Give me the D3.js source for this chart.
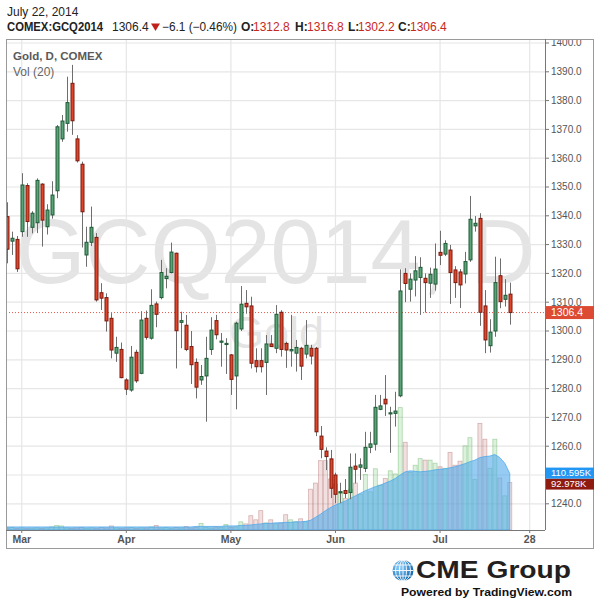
<!DOCTYPE html>
<html><head><meta charset="utf-8">
<script src="https://cdn.jsdelivr.net/npm/d3@7"></script>
<style>
body{margin:0;background:#fff;}
svg{display:block;font-family:"Liberation Sans",Arial,sans-serif;}
</style>
</head><body>
<svg id="c" width="600" height="602"></svg>
<script>
// ---------- DATA ----------
const dates = [
"2014-02-26","2014-02-27","2014-02-28",
"2014-03-03","2014-03-04","2014-03-05","2014-03-06","2014-03-07","2014-03-10","2014-03-11","2014-03-12","2014-03-13","2014-03-14",
"2014-03-17","2014-03-18","2014-03-19","2014-03-20","2014-03-21","2014-03-24","2014-03-25","2014-03-26","2014-03-27","2014-03-28","2014-03-31",
"2014-04-01","2014-04-02","2014-04-03","2014-04-04","2014-04-07","2014-04-08","2014-04-09","2014-04-10","2014-04-11","2014-04-14",
"2014-04-15","2014-04-16","2014-04-17","2014-04-21","2014-04-22","2014-04-23","2014-04-24","2014-04-25","2014-04-28","2014-04-29","2014-04-30",
"2014-05-01","2014-05-02","2014-05-05","2014-05-06","2014-05-07","2014-05-08","2014-05-09","2014-05-12","2014-05-13","2014-05-14",
"2014-05-15","2014-05-16","2014-05-19","2014-05-20","2014-05-21","2014-05-22","2014-05-23","2014-05-27","2014-05-28","2014-05-29","2014-05-30",
"2014-06-02","2014-06-03","2014-06-04","2014-06-05","2014-06-06","2014-06-09","2014-06-10","2014-06-11","2014-06-12","2014-06-13",
"2014-06-16","2014-06-17","2014-06-18","2014-06-19","2014-06-20","2014-06-23","2014-06-24","2014-06-25","2014-06-26","2014-06-27","2014-06-30",
"2014-07-01","2014-07-02","2014-07-03","2014-07-07","2014-07-08","2014-07-09","2014-07-10","2014-07-11","2014-07-14","2014-07-15",
"2014-07-16","2014-07-17","2014-07-18","2014-07-21","2014-07-22"];
const futureDates = ["2014-07-23","2014-07-24","2014-07-25","2014-07-28"];

const open = [
1339.7,1331.2,1331.8,1334.5,1350.5,1336.0,1337.6,1351.0,1336.2,1340.3,
1348.7,1366.7,1372.1,1386.0,1366.7,1357.9,1326.4,1330.8,1332.5,1313.3,
1311.6,1304.4,1292.3,1293.6,1283.0,1279.5,1292.6,1285.3,1304.4,1297.5,
1309.4,1311.6,1318.2,1320.3,1327.0,1303.0,1302.0,1294.6,1289.1,1283.0,
1284.4,1293.6,1303.6,1296.1,1295.3,1291.7,1284.4,1300.7,1309.6,1308.7,
1289.7,1289.7,1289.1,1295.5,1294.0,1306.5,1295.7,1293.1,1292.3,1294.0,
1292.0,1294.0,1294.0,1263.5,1258.3,1255.6,1250.0,1243.8,1244.6,1243.9,
1253.1,1252.7,1252.3,1259.6,1260.7,1272.8,1276.3,1271.2,1271.4,1277.5,
1320.0,1314.5,1317.7,1318.6,1318.3,1316.6,1316.3,1327.3,1326.7,1328.1,
1321.2,1320.5,1319.8,1324.7,1336.5,1339.1,1308.7,1294.9,1300.0,1319.2,
1311.0,1312.8];
const high = [
1344.7,1334.5,1333.0,1354.8,1351.3,1341.6,1353.0,1351.3,1344.0,1352.0,
1371.5,1375.0,1388.3,1392.4,1368.0,1358.8,1336.2,1343.2,1334.0,1316.6,
1313.1,1306.2,1298.0,1296.0,1283.6,1294.8,1293.5,1306.9,1307.1,1314.5,
1310.2,1324.7,1321.8,1330.7,1327.2,1306.7,1305.6,1300.0,1290.5,1288.2,
1298.0,1304.8,1305.6,1299.3,1297.5,1292.0,1303.2,1315.6,1314.2,1311.9,
1294.0,1294.0,1298.6,1298.6,1309.0,1307.2,1296.3,1305.6,1296.9,1294.5,
1303.8,1295.2,1294.5,1267.0,1259.6,1258.7,1250.8,1247.3,1248.6,1257.5,
1257.5,1255.8,1265.0,1265.0,1277.8,1277.8,1284.7,1273.7,1278.9,1321.4,
1321.8,1320.0,1326.0,1325.6,1320.0,1322.0,1330.4,1334.8,1331.5,1329.9,
1322.5,1321.5,1327.5,1346.9,1339.9,1340.9,1314.2,1304.1,1325.8,1325.2,
1318.0,1316.8];
const low = [
1323.5,1326.4,1320.5,1332.7,1332.7,1333.9,1334.0,1329.3,1333.5,1339.0,
1346.1,1365.7,1369.2,1368.1,1358.5,1329.0,1322.3,1329.5,1310.2,1307.3,
1299.8,1290.5,1289.3,1283.6,1277.8,1278.9,1282.0,1285.0,1297.0,1297.0,
1301.3,1311.0,1314.8,1320.0,1287.0,1294.0,1293.0,1281.6,1276.6,1281.3,
1268.5,1291.7,1297.1,1287.6,1285.1,1277.8,1272.8,1300.0,1306.0,1287.0,
1285.6,1285.6,1277.8,1294.5,1292.3,1291.1,1287.2,1287.6,1285.9,1283.0,
1290.5,1288.4,1263.5,1255.8,1251.7,1242.0,1240.2,1240.2,1242.0,1241.6,
1247.1,1248.3,1251.0,1257.6,1258.5,1272.5,1270.5,1257.7,1266.8,1277.0,
1310.0,1310.2,1312.0,1305.6,1306.4,1311.5,1314.0,1322.9,1326.0,1309.4,
1311.5,1308.0,1316.5,1324.0,1334.5,1301.8,1292.3,1292.5,1298.0,1307.9,
1308.5,1302.2];
const close = [
1328.4,1332.2,1321.6,1350.7,1338.0,1340.9,1352.3,1338.5,1342.0,1347.2,
1370.9,1372.9,1379.3,1373.0,1359.1,1341.4,1330.8,1336.0,1310.8,1311.4,
1303.5,1293.4,1294.3,1283.8,1279.8,1290.9,1282.7,1303.8,1297.8,1308.9,
1305.8,1320.3,1319.0,1327.4,1300.1,1303.6,1293.6,1288.3,1280.5,1284.2,
1290.5,1300.3,1298.7,1296.5,1295.7,1283.2,1302.7,1309.3,1308.4,1288.8,
1287.6,1287.6,1295.5,1294.6,1305.8,1293.6,1293.4,1293.6,1294.3,1287.8,
1295.0,1291.3,1265.0,1258.9,1256.4,1245.4,1243.3,1244.2,1243.6,1252.7,
1252.0,1253.5,1259.6,1260.8,1273.5,1274.0,1274.7,1271.6,1272.2,1313.9,
1316.5,1318.0,1320.9,1322.1,1316.8,1319.7,1321.5,1326.3,1330.4,1320.3,
1316.8,1316.0,1324.1,1338.8,1337.4,1306.5,1296.9,1299.6,1316.8,1310.2,
1312.4,1306.4];
// volume in thousands of contracts
const volumeK = [
4,5,3,4,3,3,4,3,4,6,
9,8,4,3,4,5,3,4,3,5,
4,8,4,3,4,5,3,4,4,6,
9,4,5,3,5,4,7,4,5,13,
5,4,6,5,11,5,6,16,12,28,
20,38,14,20,12,14,30,20,16,22,
16,80,92,136,136,100,90,75,62,80,
92,70,109,75,120,88,101,116,110,240,
172,113,127,140,137,137,131,124,121,152,
127,135,165,181,99,209,178,121,178,102,
67,92.978];
// Vol (20) moving average, thousands
const volMA20K = [
6,6,6,6,6,6,6,6,6,6,
6,6,6,6,6,6,6,6,6,6,
6,6,6,6,6,6,6,6,6,6,
6,6,6,6,6,6,6,6,7,7,
7,7,7,7,8,8,8,9,9,10,
11,12,13,13,14,14,15,15,16,16,
17,19,25,31,38,44,49,53,57,62,
67,72,77,81,85,88,92,96,101,108,
114,116,115,114,115,116,118,119,120,122,
124,127,130,134,137,142,144,145,148,142,
131,110.595];

const priceTicks = [1240,1250,1260,1270,1280,1290,1300,1310,1320,1330,1340,1350,1360,1370,1380,1390,1400];
const timeTickDates = ["2014-03-03","2014-04-01","2014-05-01","2014-06-02","2014-07-01","2014-07-28"];
const timeTickLabels = ["Mar","Apr","May","Jun","Jul","28"];

const symbol = "COMEX:GCQ2014", lastPrice = 1306.4, change = "\u22126.1 (\u22120.46%)";
const ohlcLabels = ["O:","H:","L:","C:"], ohlcValues = ["1312.8","1316.8","1302.2","1306.4"];

// ---------- CHART ----------
const svg = d3.select("#c");
const P = {l:6, r:545, t:39, b:530, R:594, B:549};
const allDates = dates.concat(futureDates);
const x = d3.scalePoint().domain(allDates).range([6.8, 529.7]);
const y = d3.scaleLinear().domain([1240,1400]).range([503.8, 43]);
const yv = d3.scaleLinear().domain([0,100]).range([530, 479]);

svg.append("rect").attr("width",600).attr("height",602).attr("fill","#fff");

const defs = svg.append("defs");
defs.append("clipPath").attr("id","pane").append("rect")
  .attr("x",P.l).attr("y",P.t).attr("width",P.r-P.l).attr("height",P.b-P.t);
defs.append("clipPath").attr("id","axisclip").append("rect")
  .attr("x",P.r).attr("y",P.t+1).attr("width",P.R-P.r).attr("height",P.b-P.t);
const grad = defs.append("radialGradient").attr("id","globe").attr("cx","35%").attr("cy","35%").attr("r","70%");
grad.append("stop").attr("offset","0%").attr("stop-color","#8fd3ff");
grad.append("stop").attr("offset","100%").attr("stop-color","#0b62ae");

// header
svg.append("text").attr("x",7).attr("y",15.5).attr("font-size",12).attr("fill","#222").text("July 22, 2014");
const hdr = svg.append("g").attr("font-size",12).attr("fill","#222");
hdr.append("text").attr("x",7).attr("y",30.5).attr("font-weight","bold")
  .attr("textLength",96).attr("lengthAdjust","spacingAndGlyphs").text(symbol);
hdr.append("text").attr("x",112).attr("y",30.5).text(d3.format(".1f")(lastPrice));
hdr.append("path").attr("d","M151,23.5 L160,23.5 L155.5,31 Z").attr("fill","#c0221a");
hdr.append("text").attr("x",162).attr("y",30.5).attr("textLength",75).attr("lengthAdjust","spacingAndGlyphs").text(change);
const ohlcX = [241,295,348,398], valX = [253,307,358,410];
ohlcLabels.forEach((l,i)=>{
  hdr.append("text").attr("x",ohlcX[i]).attr("y",30.5).attr("font-weight","bold").text(l);
  hdr.append("text").attr("x",valX[i]).attr("y",30.5).attr("fill","#c8281c").text(ohlcValues[i]);
});

// pane
const pane = svg.append("g").attr("clip-path","url(#pane)");
// watermark
pane.append("text").attr("x",(P.l+P.r)/2).attr("y",283).attr("text-anchor","middle")
  .attr("font-size",90).attr("fill","#e4e4e4").text("GCQ2014, D");
pane.append("text").attr("x",276.5).attr("y",348).attr("text-anchor","middle")
  .attr("font-size",45).attr("fill","#e4e4e4").text("Gold");

// grid
pane.append("g").selectAll("line").data(priceTicks).join("line")
  .attr("x1",P.l).attr("x2",P.r).attr("y1",d=>y(d)).attr("y2",d=>y(d))
  .attr("stroke","#e6e6e6").attr("stroke-width",1.2);
pane.append("g").selectAll("line").data(timeTickDates).join("line")
  .attr("x1",d=>x(d)).attr("x2",d=>x(d)).attr("y1",P.t).attr("y2",P.b)
  .attr("stroke","#e6e6e6").attr("stroke-width",1.2);

const idx = d3.range(dates.length);
const up = i => close[i] >= open[i];

// volume bars
pane.append("g").selectAll("rect").data(idx).join("rect")
  .attr("x",i=>x(dates[i])-2).attr("width",4)
  .attr("y",i=>yv(volumeK[i])).attr("height",i=>P.b - yv(volumeK[i]))
  .attr("fill",i=>up(i)?"rgba(120,205,120,0.25)":"rgba(205,130,130,0.25)")
  .attr("stroke",i=>up(i)?"rgba(90,170,90,0.45)":"rgba(175,100,100,0.45)").attr("stroke-width",0.8);

// vol MA area
pane.append("path").datum(idx)
  .attr("d", d3.area().x(i=>x(dates[i])).y0(P.b).y1(i=>yv(volMA20K[i])))
  .attr("fill","rgba(80,170,235,0.6)").attr("stroke","rgba(80,170,235,0.8)").attr("stroke-width",1);

// last price line
pane.append("line").attr("x1",P.l).attr("x2",P.r).attr("y1",y(lastPrice)).attr("y2",y(lastPrice))
  .attr("stroke","#e8584a").attr("stroke-width",1).attr("stroke-dasharray","1,2");

// candles
const cg = pane.append("g");
cg.selectAll("line").data(idx).join("line")
  .attr("x1",i=>Math.round(x(dates[i]))+0.5).attr("x2",i=>Math.round(x(dates[i]))+0.5)
  .attr("y1",i=>y(high[i])).attr("y2",i=>y(low[i]))
  .attr("stroke","#6e6e6e").attr("stroke-width",1);
cg.selectAll("rect").data(idx).join("rect")
  .attr("x",i=>Math.round(x(dates[i]))-1).attr("width",3)
  .attr("y",i=>y(Math.max(open[i],close[i])))
  .attr("height",i=>Math.max(1,Math.abs(y(open[i])-y(close[i]))))
  .attr("fill",i=>up(i)?"#5aa377":"#e0442b")
  .attr("stroke",i=>up(i)?"#1f5a36":"#7a1a0e").attr("stroke-width",1);

// frame & axes
svg.append("rect").attr("x",P.l+0.5).attr("y",P.t+0.5).attr("width",P.R-P.l-1).attr("height",P.B-P.t-1)
  .attr("fill","none").attr("stroke","#9a9a9a");
svg.append("line").attr("x1",P.r+0.5).attr("x2",P.r+0.5).attr("y1",P.t).attr("y2",P.b)
  .attr("stroke","#777");
svg.append("line").attr("x1",P.l).attr("x2",P.r).attr("y1",P.b+0.5).attr("y2",P.b+0.5)
  .attr("stroke","#777");

// right-side value tags (positions from scales)
const tags = [
  {yc: y(lastPrice), h: 13, fill: "#dd4a33", txt: d3.format(".1f")(lastPrice), fs: 10.5},
  {yc: yv(volumeK[volumeK.length-1]) + 1.5, h: 11, fill: "#8e1a10", txt: d3.format(".3f")(volumeK[volumeK.length-1])+"K", fs: 9.5},
  {yc: yv(volMA20K[volMA20K.length-1]) - 0.5, h: 11, fill: "#2196f3", txt: d3.format(".3f")(volMA20K[volMA20K.length-1])+"K", fs: 9.5}
];
const hidden = v => tags.some(t => Math.abs(y(v) - t.yc) < t.h/2 + 2);

// y axis
const ya = svg.append("g").attr("clip-path","url(#axisclip)").attr("font-size",10).attr("fill","#555");
priceTicks.forEach(v=>{
  ya.append("line").attr("x1",P.r).attr("x2",P.r+4).attr("y1",y(v)).attr("y2",y(v)).attr("stroke","#777");
  if (!hidden(v))
    ya.append("text").attr("x",P.r+6).attr("y",y(v)).attr("dy","0.33em").text(d3.format(".1f")(v));
});

// x axis
const xa = svg.append("g").attr("font-size",10.5).attr("fill","#555").attr("font-weight","bold");
timeTickDates.forEach((d,i)=>{
  xa.append("line").attr("x1",x(d)).attr("x2",x(d)).attr("y1",P.b).attr("y2",P.b+3).attr("stroke","#777");
  xa.append("text").attr("x",x(d)).attr("y",543).attr("text-anchor","middle").text(timeTickLabels[i]);
});

// legend texts
svg.append("text").attr("x",13).attr("y",60).attr("font-size",11.5).attr("font-weight","bold").attr("fill","#5a5a5a").text("Gold, D, COMEX");
svg.append("text").attr("x",13).attr("y",75.5).attr("font-size",12).attr("fill","#666").text("Vol (20)");

// tags
tags.forEach(t=>{
  svg.append("rect").attr("x",P.r+1).attr("y",t.yc-t.h/2).attr("width",48).attr("height",t.h).attr("fill",t.fill);
  svg.append("text").attr("x",P.r+6).attr("y",t.yc).attr("dy","0.35em").attr("font-size",t.fs)
    .attr("fill","#fff").text(t.txt);
});

// logo
const lg = svg.append("g");
lg.append("circle").attr("cx",403).attr("cy",570.5).attr("r",10.5).attr("fill","url(#globe)");
const gl = lg.append("g").attr("stroke","#fff").attr("stroke-width",1).attr("fill","none").attr("opacity",0.9);
[-5.5,0,5.5].forEach(dy=>{
  const hw = Math.sqrt(10.5*10.5-dy*dy);
  gl.append("line").attr("x1",403-hw).attr("x2",403+hw).attr("y1",570.5+dy).attr("y2",570.5+dy);
});
[3.5,7.5].forEach(rx=>gl.append("ellipse").attr("cx",403).attr("cy",570.5).attr("rx",rx).attr("ry",10.5));
gl.append("line").attr("x1",403).attr("x2",403).attr("y1",560).attr("y2",581);
lg.append("text").attr("x",416).attr("y",577.5).attr("font-size",23).attr("font-weight","bold").attr("fill","#231f20")
  .attr("textLength",155).attr("lengthAdjust","spacingAndGlyphs").text("CME Group");
lg.append("text").attr("x",401).attr("y",595.5).attr("font-size",11.5).attr("font-weight","bold").attr("fill","#111")
  .attr("textLength",171).attr("lengthAdjust","spacingAndGlyphs").text("Powered by TradingView.com");
</script>
</body></html>
